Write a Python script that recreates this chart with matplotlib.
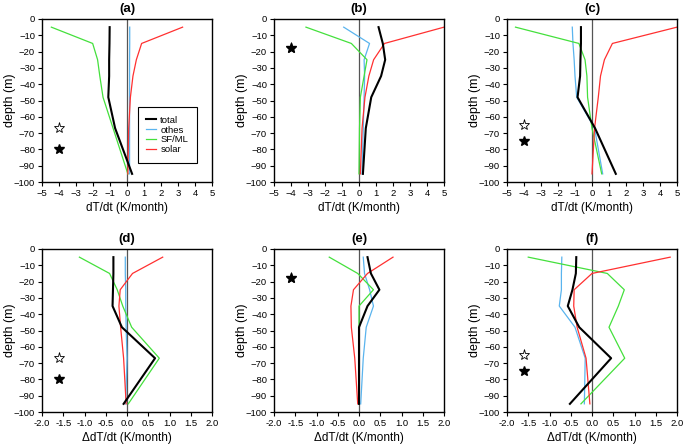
import matplotlib
matplotlib.use("Agg")
import matplotlib.pyplot as plt

plt.rcParams['font.family'] = ['Liberation Sans', 'DejaVu Sans']

depth = [-5, -15, -25, -35, -48, -67, -95]

# panel (a)
a_total = [-1.02, -1.03, -1.05, -1.05, -1.1, -0.7, 0.3]
a_others = [0.16, 0.16, 0.15, 0.15, 0.15, 0.15, 0.15]
a_sfml = [-4.45, -2.02, -1.73, -1.6, -1.41, -0.82, 0.05]
a_solar = [3.27, 0.86, 0.55, 0.35, 0.2, 0.1, 0.05]
# panel (b)
b_total = [1.15, 1.4, 1.54, 1.3, 0.72, 0.4, 0.23]
b_others = [-0.9, 0.62, 0.3, 0.33, 0.3, 0.25, 0.18]
b_sfml = [-3.12, -0.45, 0.47, 0.3, 0.08, 0.03, 0.0]
b_solar = [5.0, 1.5, 0.86, 0.58, 0.35, 0.18, 0.08]
# panel (c)
c_total = [-0.65, -0.65, -0.68, -0.7, -0.85, 0.18, 1.4]
c_others = [-1.16, -1.12, -1.05, -1.0, -0.9, 0.15, 0.63]
c_sfml = [-4.5, -0.77, -0.41, -0.3, -0.26, 0.0, 0.57]
c_solar = [5.0, 1.2, 0.73, 0.5, 0.37, 0.15, 0.0]
# panel (d)
d_total = [-0.32, -0.32, -0.33, -0.34, -0.12, 0.66, -0.08]
d_others = [-0.04, -0.04, -0.03, -0.03, -0.02, 0.0, -0.03]
d_sfml = [-1.12, -0.41, -0.23, -0.1, 0.11, 0.76, 0.03]
d_solar = [0.84, 0.13, -0.16, -0.19, -0.15, -0.08, -0.02]
# panel (e)
e_total = [0.2, 0.28, 0.48, 0.2, 0.0, 0.0, 0.0]
e_others = [0.1, 0.13, 0.25, 0.34, 0.17, 0.1, 0.04]
e_sfml = [-0.7, -0.03, 0.34, 0.0, 0.0, 0.0, 0.0]
e_solar = [0.8, 0.2, -0.13, -0.19, -0.18, -0.1, -0.03]
# panel (f)
f_total = [-0.37, -0.38, -0.46, -0.57, -0.3, 0.45, -0.52]
f_others = [-0.71, -0.72, -0.72, -0.77, -0.4, -0.16, -0.18]
f_sfml = [-1.5, 0.36, 0.76, 0.62, 0.4, 0.77, -0.26]
f_solar = [1.84, 0.0, -0.42, -0.43, -0.35, -0.14, -0.05]

# star markers (x, depth): open, filled
stars = {
    'a': ((-4, -67), (-4, -80)),
    'b': ((-4, -18), (-4, -18)),
    'c': ((-4, -65), (-4, -75)),
    'd': ((-1.6, -67), (-1.6, -80)),
    'e': ((-1.6, -18), (-1.6, -18)),
    'f': ((-1.6, -65), (-1.6, -75)),
}

panels = [
    ('a', a_total, a_others, a_sfml, a_solar),
    ('b', b_total, b_others, b_sfml, b_solar),
    ('c', c_total, c_others, c_sfml, c_solar),
    ('d', d_total, d_others, d_sfml, d_solar),
    ('e', e_total, e_others, e_sfml, e_solar),
    ('f', f_total, f_others, f_sfml, f_solar),
]

lefts = [42 / 685, 274 / 685, 507 / 685]
bottoms = [1 - 182 / 446, 1 - 412 / 446]
w = 170 / 685
h = 163 / 446

fig = plt.figure(figsize=(6.85, 4.46), dpi=100)

for i, (name, tot, oth, sf, sol) in enumerate(panels):
    row = i // 3
    col = i % 3
    ax = fig.add_axes([lefts[col], bottoms[row], w, h])
    ax.axvline(0, color='#555555', lw=0.9, zorder=1)
    ax.plot(oth, depth, color='#5ab4ee', lw=0.9, label='othes', zorder=2)
    ax.plot(sf, depth, color='#44e03c', lw=0.9, label='SF/ML', zorder=2)
    ax.plot(sol, depth, color='#ff3030', lw=0.9, label='solar', zorder=2)
    ax.plot(tot, depth, color='black', lw=1.5, label='total', zorder=3)

    so, sfill = stars[name]
    ax.plot(so[0], so[1], marker='*', ms=8, mfc='white', mec='black', mew=0.6, ls='none')
    ax.plot(sfill[0], sfill[1], marker='*', ms=7, color='black', ls='none')

    if row == 0:
        ax.set_xlim(-5, 5)
        ax.set_xticks(range(-5, 6))
        ax.set_xlabel('dT/dt (K/month)', fontsize=8.5, labelpad=3)
    else:
        ax.set_xlim(-2, 2)
        ax.set_xticks([-2, -1.5, -1, -0.5, 0, 0.5, 1, 1.5, 2])
        ax.set_xticklabels(['%.1f' % v for v in [-2, -1.5, -1, -0.5, 0, 0.5, 1, 1.5, 2]])
        ax.set_xlabel('\u0394dT/dt (K/month)', fontsize=8.5, labelpad=3)
    ax.set_ylim(-100, 0)
    ax.set_yticks(range(-100, 1, 10))
    ax.set_ylabel('depth (m)', fontsize=9)
    ax.yaxis.set_label_coords(-0.155, 0.5)
    ax.set_title('(%s)' % name, fontsize=9.5, fontweight='bold', pad=5)
    ax.tick_params(labelsize=6.8, length=3, width=0.8, direction='out', pad=2)
    for s in ax.spines.values():
        s.set_linewidth(1.0)

    if name == 'a':
        handles, labels = ax.get_legend_handles_labels()
        order = [3, 0, 1, 2]
        leg = ax.legend([handles[k] for k in order], [labels[k] for k in order],
                        loc='lower right', bbox_to_anchor=(0.91, 0.117),
                        borderaxespad=0, fontsize=6.8, handlelength=1.0,
                        handletextpad=0.5, labelspacing=0.1, borderpad=0.9,
                        fancybox=False, edgecolor='black', framealpha=1)
        leg.get_frame().set_linewidth(0.8)

fig.savefig('out.png', dpi=100)
